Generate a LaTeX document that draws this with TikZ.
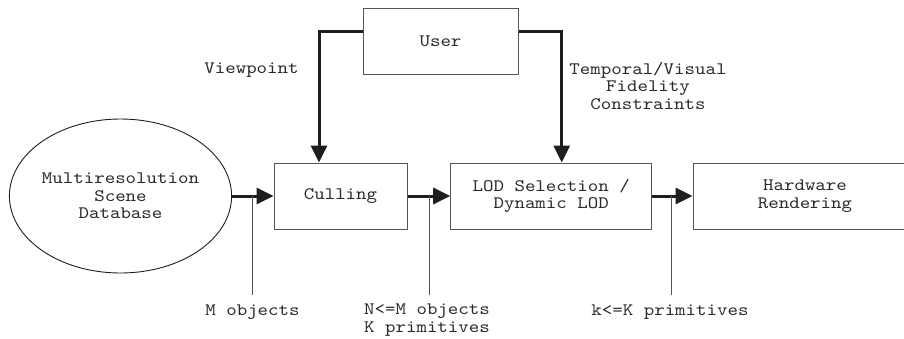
\documentclass[tikz,border=0pt]{standalone}
\usepackage{fontspec}
\newfontfamily\cour{lmmono10-regular}[Extension=.otf,FakeStretch=1.14]
\usetikzlibrary{arrows.meta,shapes.geometric}
\definecolor{txt}{HTML}{2A2A2A}
\definecolor{boxc}{HTML}{555555}
\definecolor{arr}{HTML}{1E1E1E}
\begin{document}
\begin{tikzpicture}[x=1pt,y=-1pt,
  lbl/.style={text=txt,font=\cour\fontsize{17.5}{17.4}\selectfont,align=center,inner sep=0pt},
  blk/.style={lbl,draw=boxc,line width=1pt,rectangle,minimum height=66pt},
  flow/.style={draw=arr,line width=3pt,-{Triangle[length=17pt,width=16pt]}},
  tick/.style={draw=boxc,line width=1pt}]
\useasboundingbox (0,0) rectangle (904,338);
\clip (0,0) rectangle (904,338);
\node[blk,minimum width=155pt] (user) at (440.5,41) {User};
\node[blk,minimum width=133pt] (cull) at (340.5,196) {Culling};
\node[blk,minimum width=201pt] (lod) at (551.2,196) {LOD Selection /\\Dynamic LOD};
\node[blk,minimum width=224pt] (hw) at (805,196) {Hardware\\Rendering};
\node[lbl,draw=arr,line width=0.9pt,ellipse,minimum width=221pt,minimum height=154pt] (db) at (120.5,196) {Multiresolution\\Scene\\Database};
% flows
\coordinate (vp) at (319,31.7);
\coordinate (tc) at (561.7,31.7);
\draw[flow] ([yshift=9.3pt]user.west) -- (vp) -- (vp |- cull.north);
\draw[flow] ([yshift=9.3pt]user.east) -- (tc) -- (tc |- lod.north);
\draw[flow] (db.east) -- (cull.west);
\draw[flow] (cull.east) -- (lod.west);
\draw[flow] (lod.east) -- (hw.west);
% ticks
\coordinate (t1) at (252.7,295);
\coordinate (t2) at (429,295);
\coordinate (t3) at (671.7,295);
\draw[tick] (t1) -- (t1 |- db.east);
\draw[tick] (t2) -- (t2 |- cull.east);
\draw[tick] (t3) -- (t3 |- lod.east);
% labels
\node[lbl] (lm) at (252.5,312) {M objects};
\node[lbl,anchor=north] (ln) at (427,304) {N<=M objects\\K primitives};
\node[lbl] (lk) at (670,312) {k<=K primitives};
\node[lbl] (lv) at (251.5,70) {Viewpoint};
\node[lbl,anchor=north] (lt) at (648,62) {Temporal/Visual\\Fidelity\\Constraints};
\end{tikzpicture}
\end{document}
